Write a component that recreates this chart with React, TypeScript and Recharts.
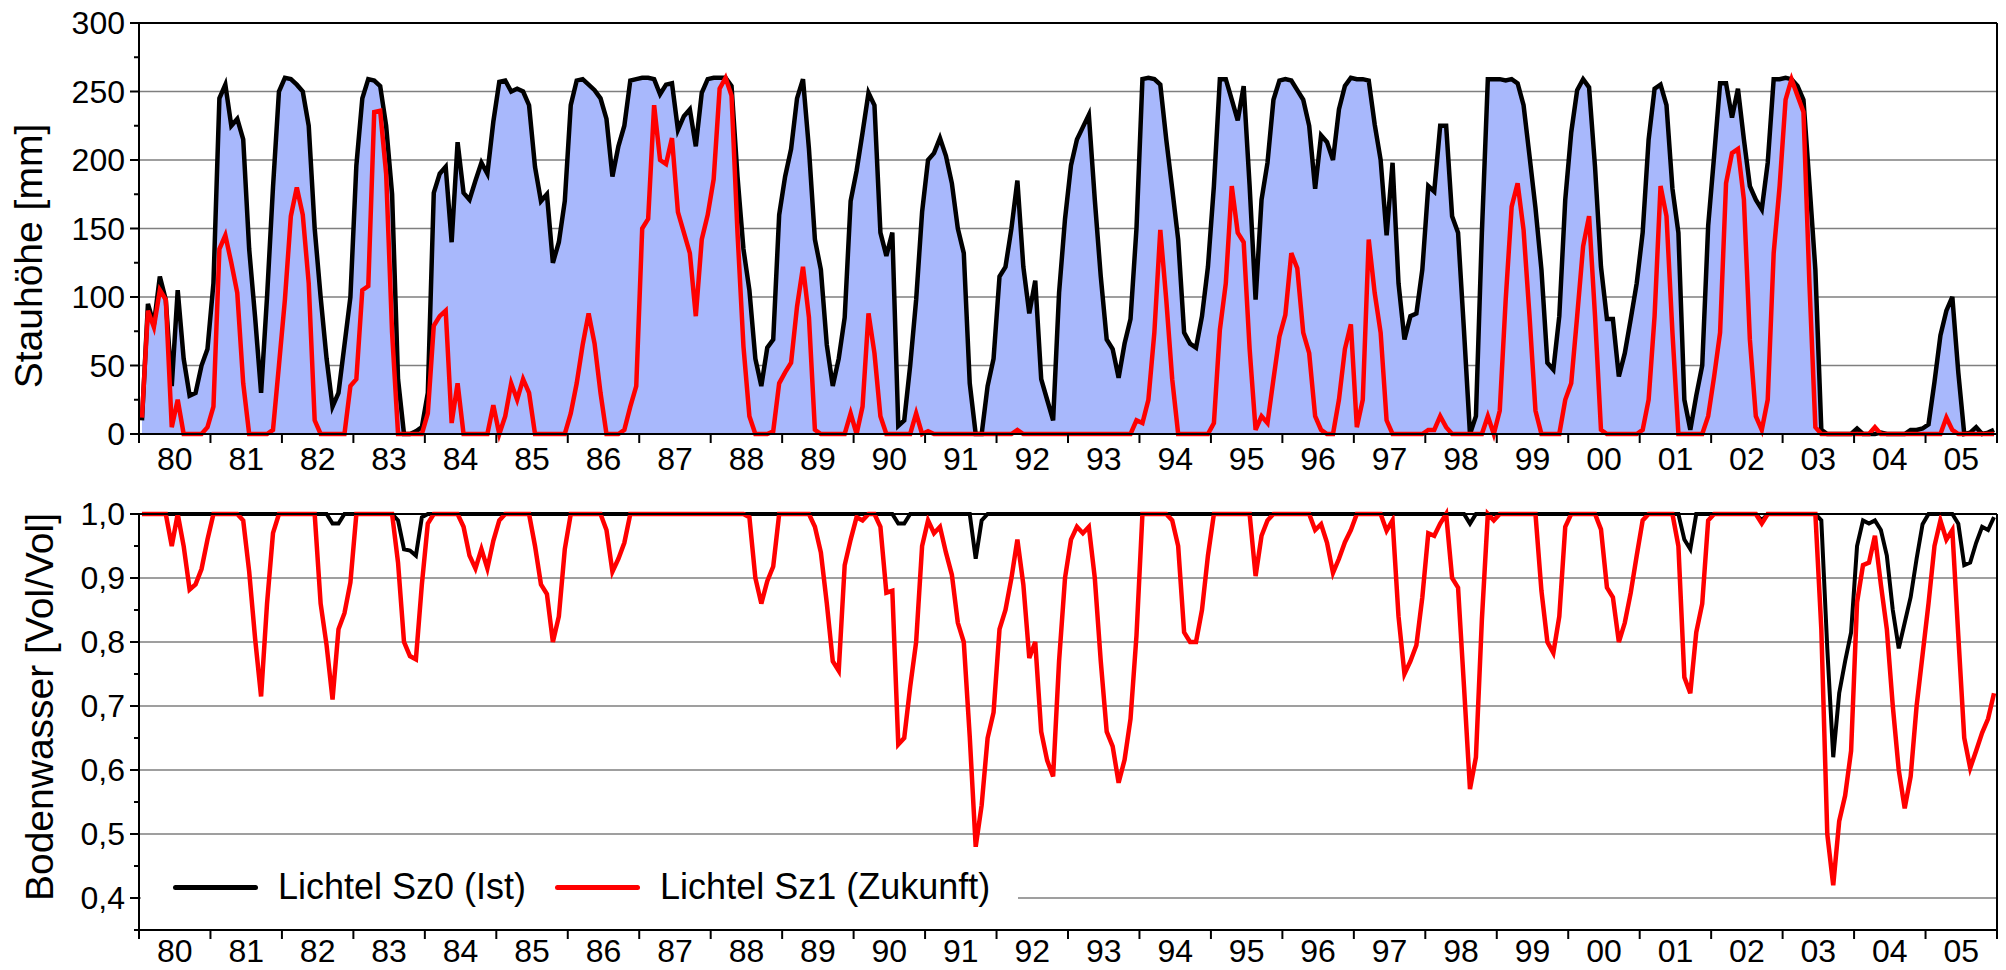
import { ComposedChart, Area, Line, XAxis, YAxis, CartesianGrid, Legend } from 'recharts';

const FONT = '"Liberation Sans", Arial, Helvetica, sans-serif';

// Jahresbeschriftung der x-Achse (1980 … 2005)
const yearLabels = ['80', '81', '82', '83', '84', '85', '86', '87', '88', '89', '90', '91', '92',
  '93', '94', '95', '96', '97', '98', '99', '00', '01', '02', '03', '04', '05'];

const stauTicks = [0, 50, 100, 150, 200, 250, 300];
const stauMinorTicks = [0, 25, 50, 75, 100, 125, 150, 175, 200, 225, 250, 275, 300];
const bodenTicks = [0.4, 0.5, 0.6, 0.7, 0.8, 0.9, 1.0];
const bodenMinorTicks = [0.35, 0.4, 0.45, 0.5, 0.55, 0.6, 0.65, 0.7, 0.75, 0.8, 0.85, 0.9, 0.95, 1.0];

// Stauhöhe [mm], Monatswerte, eine Zeile je Jahr
const stauSz0 = [
  10, 95, 80, 115, 98, 35, 105, 55, 28, 30, 50, 62,
  110, 245, 255, 225, 230, 215, 135, 85, 30, 100, 180, 250,
  260, 259, 255, 250, 225, 150, 100, 55, 20, 30, 65, 100,
  196, 245, 259, 258, 254, 225, 175, 40, 0, 0, 2, 5,
  30, 176, 190, 195, 140, 213, 176, 171, 185, 198, 190, 228,
  257, 258, 250, 252, 250, 240, 195, 170, 175, 125, 140, 170,
  240, 258, 259, 255, 251, 245, 230, 188, 210, 225, 258, 259,
  260, 260, 259, 248, 255, 256, 222, 232, 237, 210, 249, 259,
  260, 260, 260, 254, 188, 135, 105, 55, 35, 63, 69, 160,
  188, 208, 245, 259, 208, 142, 120, 65, 35, 55, 85, 170,
  192, 220, 249, 240, 147, 130, 147, 6, 10, 50, 98, 162,
  200, 205, 216, 203, 183, 150, 132, 37, 0, 0, 35, 55,
  115, 122, 150, 185, 122, 88, 112, 40, 25, 10, 103, 157,
  196, 215, 224, 233, 171, 115, 69, 62, 41, 66, 84, 150,
  259, 260, 259, 255, 215, 179, 142, 74, 66, 63, 86, 122,
  181, 259, 259, 244, 229, 254, 181, 98, 171, 198, 244, 258,
  259, 258, 251, 244, 225, 179, 218, 213, 200, 237, 254, 260,
  259, 259, 258, 226, 200, 145, 198, 110, 69, 86, 88, 120,
  181, 177, 225, 225, 159, 147, 75, 0, 13, 147, 259, 259,
  259, 258, 259, 256, 240, 203, 165, 120, 52, 47, 86, 171,
  220, 251, 259, 253, 195, 122, 84, 84, 42, 59, 84, 110,
  147, 215, 252, 255, 240, 179, 147, 25, 3, 28, 50, 152,
  203, 256, 256, 231, 252, 215, 181, 171, 164, 198, 259, 259,
  260, 259, 254, 244, 183, 120, 3, 0, 0, 0, 0, 0,
  4, 0, 0, 0, 1, 0, 0, 0, 0, 3, 3, 4,
  7, 38, 72, 90, 100, 45, 0, 1, 5, 0, 1, 3,
];

const stauSz1 = [
  12, 90, 78, 105, 98, 5, 25, 0, 0, 0, 0, 5,
  20, 135, 145, 125, 103, 37, 0, 0, 0, 0, 3, 50,
  98, 159, 180, 160, 110, 10, 0, 0, 0, 0, 0, 35,
  40, 105, 108, 235, 236, 190, 74, 0, 0, 0, 0, 0,
  15, 79, 86, 90, 8, 37, 0, 0, 0, 0, 0, 21,
  0, 13, 37, 25, 40, 30, 0, 0, 0, 0, 0, 0,
  15, 37, 65, 88, 66, 30, 0, 0, 0, 3, 20, 35,
  150, 157, 240, 200, 197, 216, 162, 147, 132, 86, 142, 160,
  186, 252, 260, 247, 147, 64, 13, 0, 0, 0, 2, 37,
  45, 52, 93, 122, 85, 3, 0, 0, 0, 0, 0, 15,
  0, 20, 88, 59, 13, 0, 0, 0, 0, 0, 15, 0,
  2, 0, 0, 0, 0, 0, 0, 0, 0, 0, 0, 0,
  0, 0, 0, 3, 0, 0, 0, 0, 0, 0, 0, 0,
  0, 0, 0, 0, 0, 0, 0, 0, 0, 0, 0, 10,
  8, 25, 74, 149, 98, 40, 0, 0, 0, 0, 0, 0,
  8, 76, 110, 181, 147, 140, 62, 3, 13, 8, 40, 71,
  87, 132, 121, 74, 59, 13, 3, 0, 0, 25, 62, 80,
  5, 25, 142, 103, 74, 10, 0, 0, 0, 0, 0, 0,
  3, 3, 13, 5, 0, 0, 0, 0, 0, 0, 13, 0,
  17, 98, 166, 183, 149, 86, 17, 0, 0, 0, 0, 25,
  37, 86, 137, 159, 86, 3, 0, 0, 0, 0, 0, 0,
  3, 25, 86, 181, 159, 74, 0, 0, 0, 0, 0, 13,
  42, 74, 183, 205, 208, 171, 69, 13, 3, 25, 132, 181,
  244, 259, 247, 235, 110, 5, 0, 0, 0, 0, 0, 0,
  0, 0, 0, 5, 0, 0, 0, 0, 0, 0, 0, 0,
  0, 0, 0, 12, 3, 0, 0, 0, 0, 0, 0, 0,
];

// Bodenwasser [Vol/Vol], Monatswerte, eine Zeile je Jahr
const bodenSz0 = [
  1, 1, 1, 1, 1, 1, 1, 1, 1, 1, 1, 1,
  1, 1, 1, 1, 1, 1, 1, 1, 1, 1, 1, 1,
  1, 1, 1, 1, 1, 1, 1, 1, 0.985, 0.985, 1, 1,
  1, 1, 1, 1, 1, 1, 1, 0.99, 0.945, 0.943, 0.935, 0.995,
  1, 1, 1, 1, 1, 1, 1, 1, 1, 1, 1, 1,
  1, 1, 1, 1, 1, 1, 1, 1, 1, 1, 1, 1,
  1, 1, 1, 1, 1, 1, 1, 1, 1, 1, 1, 1,
  1, 1, 1, 1, 1, 1, 1, 1, 1, 1, 1, 1,
  1, 1, 1, 1, 1, 1, 1, 1, 1, 1, 1, 1,
  1, 1, 1, 1, 1, 1, 1, 1, 1, 1, 1, 1,
  1, 1, 1, 1, 1, 1, 1, 0.985, 0.985, 1, 1, 1,
  1, 1, 1, 1, 1, 1, 1, 1, 0.93, 0.99, 1, 1,
  1, 1, 1, 1, 1, 1, 1, 1, 1, 1, 1, 1,
  1, 1, 1, 1, 1, 1, 1, 1, 1, 1, 1, 1,
  1, 1, 1, 1, 1, 1, 1, 1, 1, 1, 1, 1,
  1, 1, 1, 1, 1, 1, 1, 1, 1, 1, 1, 1,
  1, 1, 1, 1, 1, 1, 1, 1, 1, 1, 1, 1,
  1, 1, 1, 1, 1, 1, 1, 1, 1, 1, 1, 1,
  1, 1, 1, 1, 1, 1, 1, 0.985, 1, 1, 1, 1,
  1, 1, 1, 1, 1, 1, 1, 1, 1, 1, 1, 1,
  1, 1, 1, 1, 1, 1, 1, 1, 1, 1, 1, 1,
  1, 1, 1, 1, 1, 1, 1, 0.96, 0.945, 1, 1, 1,
  1, 1, 1, 1, 1, 1, 1, 1, 0.99, 1, 1, 1,
  1, 1, 1, 1, 1, 1, 0.99, 0.79, 0.62, 0.72, 0.77, 0.815,
  0.95, 0.99, 0.985, 0.99, 0.975, 0.935, 0.85, 0.79, 0.83, 0.87, 0.93, 0.984,
  1, 1, 1, 1, 1, 0.985, 0.92, 0.924, 0.955, 0.98, 0.975, 0.995,
];

const bodenSz1 = [
  1, 1, 1, 1, 1, 0.95, 1, 0.95, 0.882, 0.89, 0.914, 0.96,
  1, 1, 1, 1, 1, 0.99, 0.91, 0.805, 0.715, 0.86, 0.97, 1,
  1, 1, 1, 1, 1, 1, 0.86, 0.795, 0.71, 0.82, 0.845, 0.893,
  1, 1, 1, 1, 1, 1, 1, 0.924, 0.8, 0.778, 0.773, 0.89,
  0.985, 1, 1, 1, 1, 1, 0.98, 0.935, 0.915, 0.945, 0.915, 0.958,
  0.99, 1, 1, 1, 1, 1, 0.95, 0.89, 0.875, 0.8, 0.84, 0.945,
  1, 1, 1, 1, 1, 1, 0.975, 0.91, 0.93, 0.955, 1, 1,
  1, 1, 1, 1, 1, 1, 1, 1, 1, 1, 1, 1,
  1, 1, 1, 1, 1, 1, 0.995, 0.9, 0.86, 0.895, 0.918, 1,
  1, 1, 1, 1, 1, 0.98, 0.94, 0.86, 0.77, 0.755, 0.92, 0.96,
  0.995, 0.99, 1, 1, 0.98, 0.877, 0.88, 0.64, 0.65, 0.73, 0.8, 0.95,
  0.99, 0.97, 0.98, 0.94, 0.905, 0.83, 0.8, 0.652, 0.48, 0.545, 0.65, 0.69,
  0.82, 0.85, 0.9, 0.96, 0.89, 0.775, 0.8, 0.66, 0.615, 0.59, 0.77, 0.9,
  0.96, 0.98, 0.97, 0.98, 0.9, 0.77, 0.66, 0.637, 0.58, 0.616, 0.68, 0.81,
  1, 1, 1, 1, 1, 0.99, 0.95, 0.815, 0.8, 0.8, 0.85, 0.935,
  1, 1, 1, 1, 1, 1, 1, 0.903, 0.966, 0.99, 1, 1,
  1, 1, 1, 1, 1, 0.975, 0.984, 0.955, 0.908, 0.93, 0.956, 0.975,
  1, 1, 1, 1, 1, 0.974, 0.99, 0.84, 0.75, 0.77, 0.795, 0.87,
  0.97, 0.966, 0.985, 1, 0.9, 0.885, 0.73, 0.57, 0.62, 0.835, 1, 0.99,
  1, 1, 1, 1, 1, 1, 1, 0.88, 0.8, 0.783, 0.84, 0.98,
  1, 1, 1, 1, 1, 0.976, 0.885, 0.87, 0.8, 0.83, 0.877, 0.935,
  0.99, 1, 1, 1, 1, 1, 0.95, 0.745, 0.72, 0.815, 0.86, 0.99,
  1, 1, 1, 1, 1, 1, 1, 1, 0.985, 1, 1, 1,
  1, 1, 1, 1, 1, 1, 0.82, 0.5, 0.42, 0.52, 0.56, 0.63,
  0.862, 0.92, 0.924, 0.966, 0.89, 0.82, 0.7, 0.6, 0.54, 0.59, 0.7, 0.78,
  0.86, 0.95, 0.99, 0.96, 0.975, 0.81, 0.65, 0.603, 0.63, 0.658, 0.68, 0.72,
];

const START = 1980;
const END = START + yearLabels.length;
const yearBounds = [...yearLabels.map((_, i) => START + i), END];
const yearCenters = yearLabels.map((_, i) => START + i + 0.5);
// Jahresgrenzen (Striche) und Jahresmitten (Beschriftung) auf einer Achse
const yearTicks = [...yearBounds, ...yearCenters].sort((a, b) => a - b);
const yearLabel = (v: number) => yearLabels[Math.floor(v) - START] ?? '';
const monthTime = (i: number) => START + (i + 0.5) / 12;

const stauRows = stauSz0.map((v, i) => ({ t: monthTime(i), sz0: v, sz1: stauSz1[i] }));
const bodenRows = bodenSz0.map((v, i) => ({ t: monthTime(i), sz0: v, sz1: bodenSz1[i] }));

const W = 2006;
const frame = { stroke: '#000', strokeWidth: 2 };
const gridColor = '#7f7f7f';
const komma = (v: number) => v.toFixed(1).replace('.', ',');

// Strich an der Jahresgrenze, Jahreszahl mittig im Jahr
const makeYearTick = (gap: number) => (props: any) => {
  const { x, y, payload } = props;
  const v = payload.value as number;
  if (Number.isInteger(v)) {
    return <line x1={x} y1={y} x2={x} y2={y + 9} stroke="#000" strokeWidth={2} />;
  }
  return (
    <text x={x} y={y + gap} dy="0.71em" textAnchor="middle" fill="#000" fontSize={32} fontFamily={FONT}>
      {yearLabel(v)}
    </text>
  );
};

// lange Striche mit Zahl an Hauptwerten, kurze Striche dazwischen
const makeValueTick = (major: number[], fmt: (v: number) => string) => (props: any) => {
  const { x, y, payload } = props;
  const v = payload.value as number;
  const isMajor = major.includes(v);
  return (
    <g>
      <line x1={x - (isMajor ? 9 : 5)} y1={y} x2={x} y2={y} stroke="#000" strokeWidth={2} />
      {isMajor && (
        <text x={x - 14} y={y} dy="0.355em" textAnchor="end" fill="#000" fontSize={32} fontFamily={FONT}>
          {fmt(v)}
        </text>
      )}
    </g>
  );
};

const stauYearTick = makeYearTick(13);
const bodenYearTick = makeYearTick(9);
const stauValueTick = makeValueTick(stauTicks, (v) => String(v));
const bodenValueTick = makeValueTick(bodenTicks, komma);

function LegendBox({ payload }: any) {
  return (
    <div style={{ display: 'flex', alignItems: 'center', height: '100%', paddingLeft: 32, fontFamily: FONT, fontSize: 36, color: '#000', whiteSpace: 'nowrap' }}>
      {(payload ?? []).map((entry: any, i: number) => (
        <div key={i} style={{ display: 'flex', alignItems: 'center', flexShrink: 0, marginRight: 29 }}>
          <span style={{ display: 'inline-block', width: 85, height: 5, borderRadius: 3, background: entry.color, marginRight: 20 }} />
          <span>{entry.value}</span>
        </div>
      ))}
    </div>
  );
}

const titleStyle = {
  position: 'absolute' as const,
  transform: 'translate(-50%, -50%) rotate(-90deg)',
  fontFamily: FONT,
  fontSize: 39,
  whiteSpace: 'nowrap' as const,
  color: '#000',
};

export default function App() {
  return (
    <div style={{ position: 'absolute', left: 0, top: 0, width: W, height: 970, background: '#fff' }}>
      <div style={{ position: 'absolute', left: 0, top: 0 }}>
        <ComposedChart width={W} height={480} data={stauRows} margin={{ top: 23, right: 9, bottom: 0, left: 39 }}>
          <CartesianGrid xAxisId="year" yAxisId="mm" vertical={false} horizontalValues={stauTicks} stroke={gridColor} strokeWidth={1.5} />
          <XAxis xAxisId="year" dataKey="t" type="number" domain={[START, END]} ticks={yearTicks} interval={0}
            tick={stauYearTick} tickLine={false} tickSize={0} tickMargin={0} axisLine={frame} height={46} />
          <XAxis xAxisId="top" orientation="top" dataKey="t" type="number" domain={[START, END]} ticks={yearBounds}
            tick={false} mirror tickSize={6} tickLine={frame} axisLine={frame} height={1} />
          <YAxis yAxisId="mm" domain={[0, 300]} ticks={stauMinorTicks} interval={0} tick={stauValueTick}
            tickLine={false} tickSize={0} tickMargin={0} axisLine={frame} width={100} />
          <YAxis yAxisId="mmRight" orientation="right" domain={[0, 300]} ticks={stauMinorTicks} tick={false} mirror
            tickSize={5} tickLine={frame} axisLine={frame} width={1} />
          <Area xAxisId="year" yAxisId="mm" type="linear" dataKey="sz0" name="Lichtel Sz0 (Ist)" stroke="#000"
            strokeWidth={4.5} fill="#a8b8fc" fillOpacity={1} dot={false} activeDot={false} isAnimationActive={false} />
          <Line xAxisId="year" yAxisId="mm" type="linear" dataKey="sz1" name="Lichtel Sz1 (Zukunft)" stroke="#ff0000"
            strokeWidth={4.5} dot={false} activeDot={false} isAnimationActive={false} />
        </ComposedChart>
      </div>

      <div style={{ position: 'absolute', left: 0, top: 480 }}>
        <ComposedChart width={W} height={490} data={bodenRows} margin={{ top: 34, right: 9, bottom: 0, left: 39 }}>
          <CartesianGrid xAxisId="year" yAxisId="vol" vertical={false} horizontalValues={bodenTicks} stroke={gridColor} strokeWidth={1.5} />
          <XAxis xAxisId="year" dataKey="t" type="number" domain={[START, END]} ticks={yearTicks} interval={0}
            tick={bodenYearTick} tickLine={false} tickSize={0} tickMargin={0} axisLine={frame} height={40} />
          <XAxis xAxisId="top" orientation="top" dataKey="t" type="number" domain={[START, END]} ticks={yearBounds}
            tick={false} mirror tickSize={6} tickLine={frame} axisLine={frame} height={1} />
          <YAxis yAxisId="vol" domain={[0.35, 1]} ticks={bodenMinorTicks} interval={0} tick={bodenValueTick}
            tickLine={false} tickSize={0} tickMargin={0} axisLine={frame} width={100} />
          <YAxis yAxisId="volRight" orientation="right" domain={[0.35, 1]} ticks={bodenMinorTicks} tick={false} mirror
            tickSize={5} tickLine={frame} axisLine={frame} width={1} />
          <Legend layout="horizontal" verticalAlign="middle" align="center" content={<LegendBox />}
            wrapperStyle={{ position: 'absolute', left: 141, top: 380, width: 877, height: 54, background: '#fff' }} />
          <Line xAxisId="year" yAxisId="vol" type="linear" dataKey="sz0" name="Lichtel Sz0 (Ist)" stroke="#000"
            strokeWidth={4} dot={false} activeDot={false} isAnimationActive={false} />
          <Line xAxisId="year" yAxisId="vol" type="linear" dataKey="sz1" name="Lichtel Sz1 (Zukunft)" stroke="#ff0000"
            strokeWidth={4.5} dot={false} activeDot={false} isAnimationActive={false} />
        </ComposedChart>
      </div>

      <div style={{ ...titleStyle, left: 29, top: 256 }}>Stauhöhe [mm]</div>
      <div style={{ ...titleStyle, left: 40, top: 707 }}>Bodenwasser [Vol/Vol]</div>
    </div>
  );
}
